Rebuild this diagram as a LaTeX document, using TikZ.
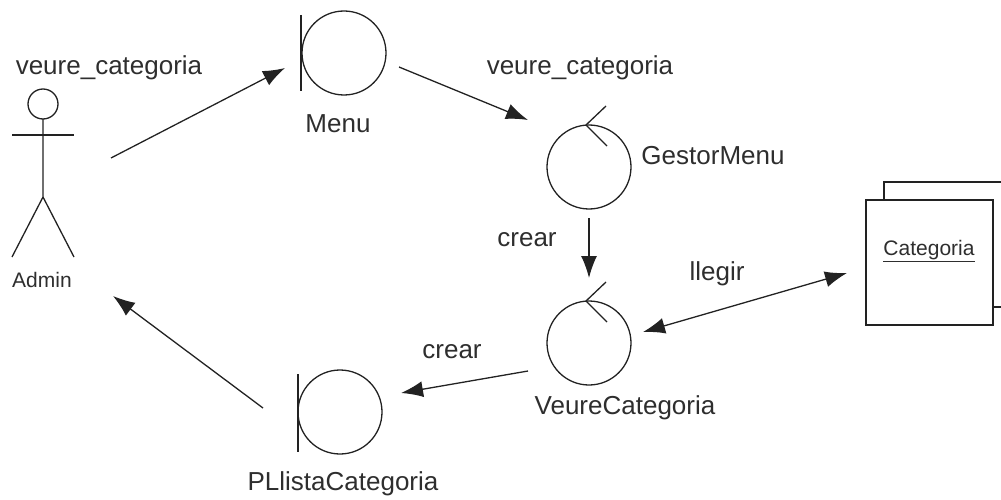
\documentclass[tikz,border=0pt]{standalone}
\usepackage{fontspec}
\setmainfont{Liberation Sans}
\usetikzlibrary{arrows.meta}
\definecolor{ink}{HTML}{222222}
\definecolor{txt}{HTML}{2E2E2E}
\tikzset{
  every node/.style={text=txt, font=\fontsize{26}{29}\selectfont},
  smalltext/.style={font=\fontsize{21}{24}\selectfont},
  line/.style={draw=ink, line width=1.3pt},
  ctrl/.style={line, circle, minimum size=84pt, inner sep=0pt},
  arr/.style={line, -{Latex[length=22pt,width=16pt]}},
  biarr/.style={line, {Latex[length=22pt,width=16pt]}-{Latex[length=22pt,width=16pt]}},
}
\begin{document}
\begin{tikzpicture}[x=1pt, y=-1pt]
\useasboundingbox (0,0) rectangle (1001,500);
\clip (0,0) rectangle (1001,500);

% actor
\node[minimum width=62pt, minimum height=170pt, inner sep=0pt] (admin) at (43,172) {};
\draw[line] (43,104) circle (15);
\draw[line] (12,135) -- (74,135);
\draw[line] (43,119) -- (43,197) -- (12,257);
\draw[line] (43,197) -- (74,257);
\node[smalltext] (adminlbl) at (42,280) {Admin};

% boundary objects
\node[ctrl] (menu) at (344,53) {};
\draw[line] (301,15) -- (301,91);
\node (menulbl) at (338,124) {Menu};

\node[ctrl] (pl) at (340,412) {};
\draw[line] (298,374) -- (298,452);
\node (pllbl) at (343,484) {PLlistaCategoria};

% control objects
\node[ctrl] (gm) at (589,167) {};
\draw[line] ([shift={(17,-61)}]gm.center) -- ([shift={(-3,-42)}]gm.center) -- ([shift={(18,-21)}]gm.center);
\node (gmlbl) at (713,156) {GestorMenu};

\node[ctrl] (vc) at (589,343) {};
\draw[line] ([shift={(17,-61)}]vc.center) -- ([shift={(-3,-42)}]vc.center) -- ([shift={(18,-21)}]vc.center);
\node (vclbl) at (625,408) {VeureCategoria};

% entity
\draw[line, fill=white] (884,182) rectangle (1015,307);
\node[line, fill=white, minimum width=127pt, minimum height=125pt, inner sep=0pt] (cat) at (929.5,262.5) {};
\node[smalltext] (catlbl) at (929,251) {\underline{Categoria}};

% messages
\draw[arr] ([shift={(68,-14)}]admin.center) -- ([shift={(-59,15)}]menu.center);
\node (m1) at (109,68) {veure\_categoria};

\draw[arr] ([shift={(55,14)}]menu.center) -- ([shift={(-61,-47)}]gm.center);
\node (m2) at (580,68) {veure\_categoria};

\draw[arr] ([shift={(0,51)}]gm.center) -- ([shift={(0,-65)}]vc.center);
\node (m3) at (527,240) {crear};

\draw[biarr] ([shift={(54,-11)}]vc.center) -- ([shift={(-82.5,10.5)}]cat.center);
\node (m4) at (717,274) {llegir};

\draw[arr] ([shift={(-61,28)}]vc.center) -- ([shift={(61,-19)}]pl.center);
\node (m5) at (452,352) {crear};

\draw[arr] ([shift={(-77,-4)}]pl.center) -- ([shift={(70,124)}]admin.center);
\end{tikzpicture}
\end{document}
